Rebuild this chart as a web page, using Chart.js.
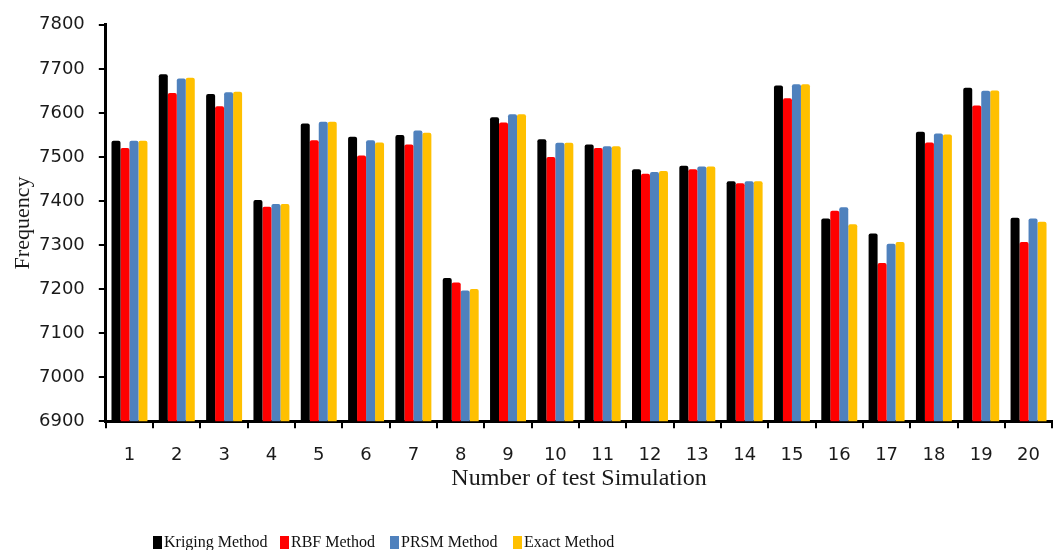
<!DOCTYPE html>
<html>
<head>
<meta charset="utf-8">
<script src="https://cdn.jsdelivr.net/npm/chart.js@4.4.1/dist/chart.umd.min.js"></script>
<style>
  html, body { margin: 0; padding: 0; background: #fff; overflow: hidden; }
</style>
</head>
<body>
<canvas id="freqChart" width="1058" height="550"></canvas>
<script>
const simulations = ['1','2','3','4','5','6','7','8','9','10','11','12','13','14','15','16','17','18','19','20'];
const kriging = [7537, 7688, 7643, 7402, 7576, 7546, 7550, 7225, 7590, 7540, 7528, 7472, 7480, 7445, 7662, 7360, 7326, 7557, 7657, 7362];
const rbf     = [7520, 7645, 7615, 7387, 7538, 7503, 7528, 7215, 7578, 7500, 7520, 7462, 7472, 7440, 7633, 7378, 7259, 7533, 7617, 7307];
const prsm    = [7537, 7678, 7647, 7393, 7580, 7538, 7560, 7197, 7597, 7532, 7524, 7466, 7478, 7445, 7665, 7386, 7303, 7553, 7650, 7360];
const exact   = [7537, 7680, 7648, 7393, 7580, 7533, 7555, 7200, 7597, 7532, 7524, 7468, 7478, 7445, 7665, 7347, 7307, 7551, 7651, 7353];
const yTicks  = [6900, 7000, 7100, 7200, 7300, 7400, 7500, 7600, 7700, 7800];

const seriesNames  = ['Kriging Method', 'RBF Method', 'PRSM Method', 'Exact Method'];
const seriesColors = ['#000000', '#ff0000', '#4f81bd', '#ffc000'];

// legend drawn by hand: the original sits left of centre, under the plot
const bottomLegend = {
    id: 'bottomLegend',
    afterDraw(chart, args, opts) {
        const ctx = chart.ctx;
        ctx.save();
        ctx.font = opts.font;
        ctx.textBaseline = 'middle';
        chart.data.datasets.forEach((ds, i) => {
            const x = opts.starts[i];
            ctx.fillStyle = ds.backgroundColor;
            ctx.fillRect(x, opts.y - 6, 9, 13);
            ctx.fillStyle = '#111';
            ctx.fillText(ds.label, x + 11, opts.y + 1);
        });
        ctx.restore();
    }
};

const datasets = [kriging, rbf, prsm, exact].map((vals, i) => ({
    label: seriesNames[i],
    data: vals,
    backgroundColor: seriesColors[i],
    borderWidth: 0,
    borderRadius: { topLeft: 2, topRight: 2 },
    borderSkipped: 'bottom',
    categoryPercentage: 0.76,
    barPercentage: 1.0
}));

const ctx = document.getElementById('freqChart').getContext('2d');
new Chart(ctx, {
    type: 'bar',
    data: { labels: simulations, datasets: datasets },
    plugins: [bottomLegend],
    options: {
        responsive: false,
        animation: false,
        layout: { padding: { top: 12, right: 0, bottom: 55, left: 3 } },
        plugins: {
            legend: { display: false },
            tooltip: { enabled: false },
            bottomLegend: {
                font: '16px "Liberation Serif"',
                y: 542,
                starts: [153, 280, 390, 513]
            }
        },
        scales: {
            x: {
                grid: { drawOnChartArea: false, drawTicks: true, tickLength: 7, color: '#000', lineWidth: 2, offset: true },
                border: { display: true, color: '#000', width: 3 },
                ticks: { color: '#1a1a1a', font: { family: 'DejaVu Sans', size: 18, lineHeight: 1 }, padding: 18, maxRotation: 0 },
                title: {
                    display: true,
                    text: 'Number of test Simulation',
                    color: '#1a1a1a',
                    font: { family: 'Liberation Serif', size: 24 },
                    padding: { top: -18, bottom: 2 }
                }
            },
            y: {
                min: 6900,
                max: 7800,
                afterBuildTicks: (axis) => { axis.ticks = yTicks.map(v => ({ value: v })); },
                grid: { drawOnChartArea: false, drawTicks: true, tickLength: 7, color: '#000', lineWidth: 2 },
                border: { display: true, color: '#000', width: 3 },
                ticks: {
                    color: '#1a1a1a',
                    font: { family: 'DejaVu Sans', size: 18 },
                    padding: 14,
                    callback: (v) => String(v)
                },
                title: {
                    display: true,
                    text: 'Frequency',
                    color: '#1a1a1a',
                    font: { family: 'Liberation Serif', size: 22, lineHeight: 1 },
                    padding: { top: 9, bottom: -9 }
                }
            }
        }
    }
});
</script>
</body>
</html>
